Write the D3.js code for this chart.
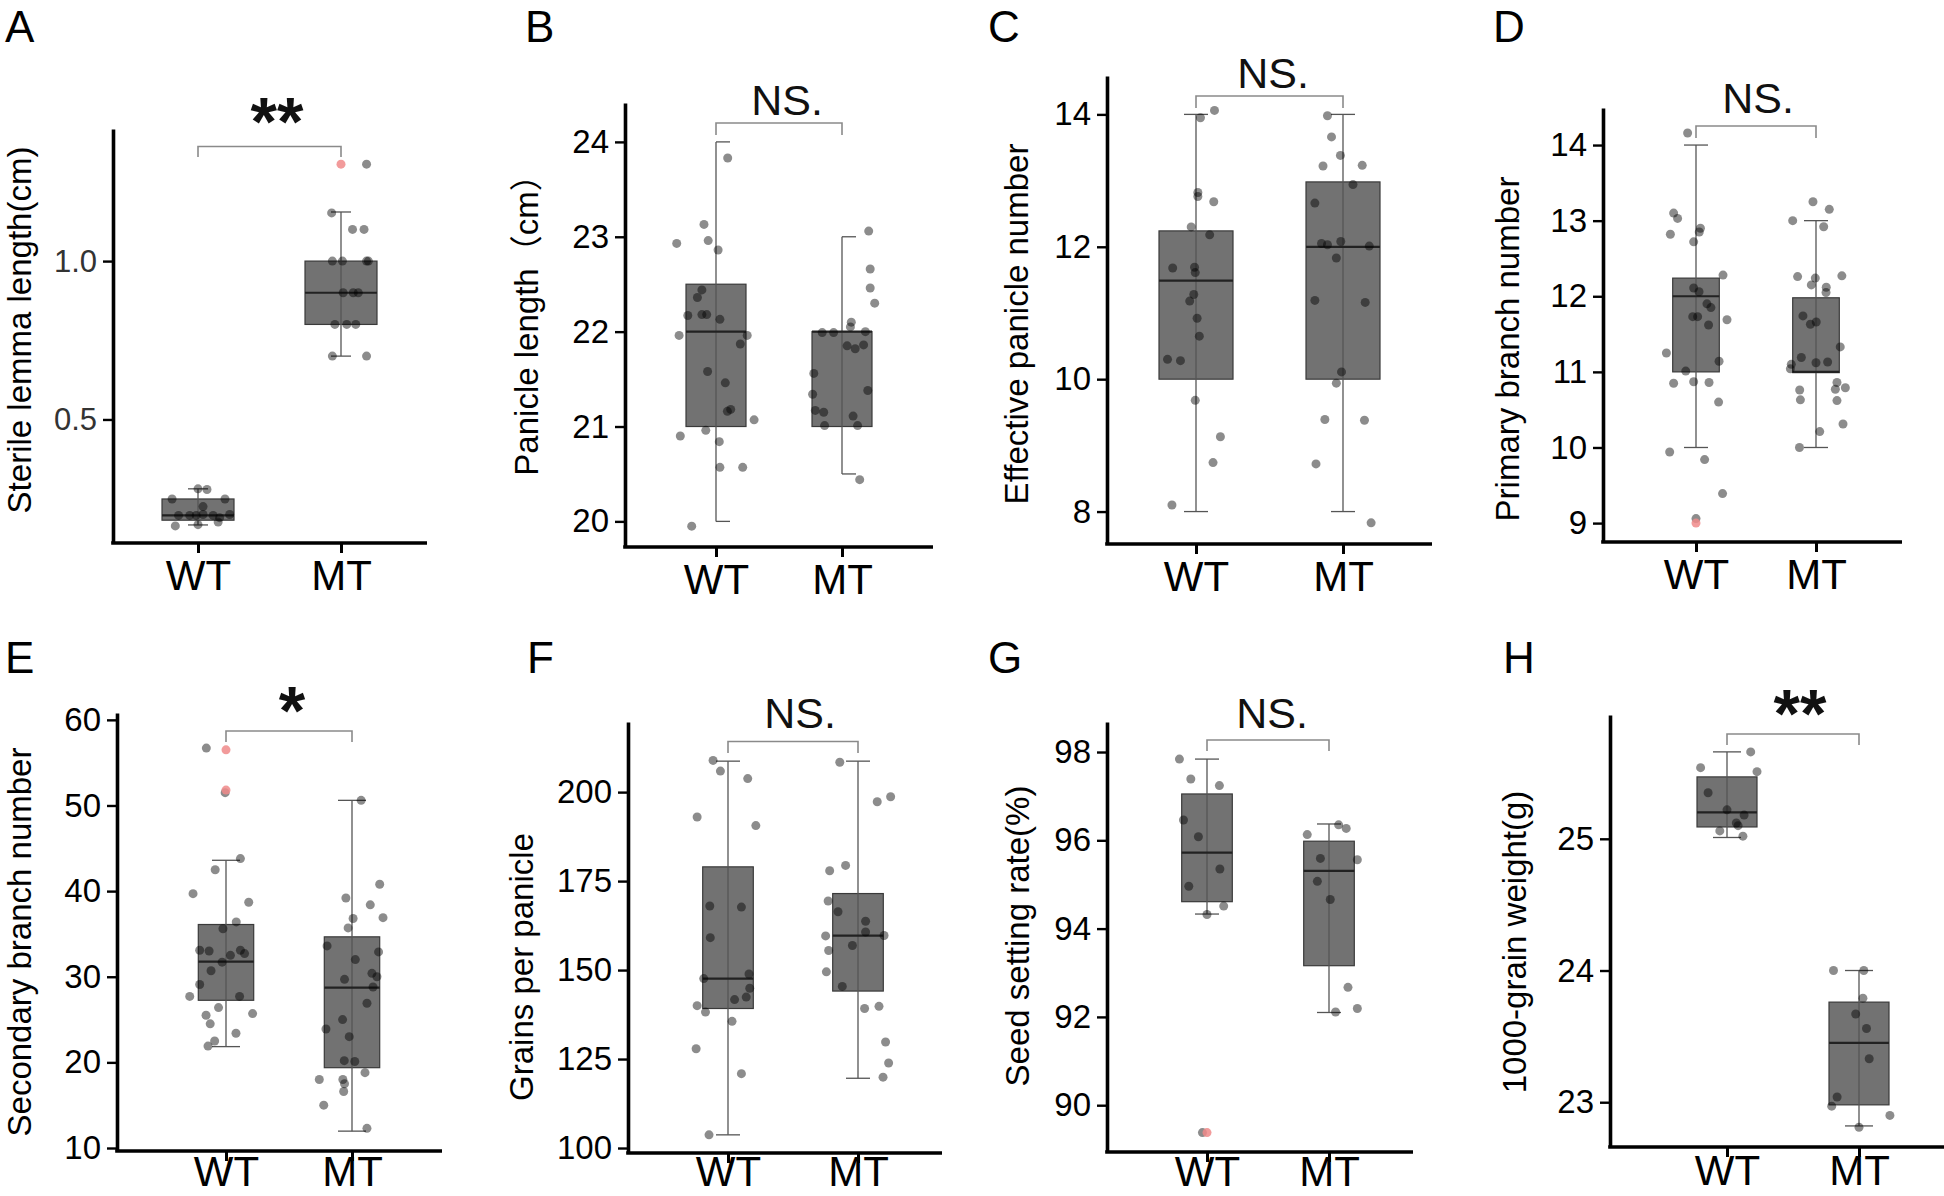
<!DOCTYPE html>
<html><head><meta charset="utf-8">
<script src="https://cdn.jsdelivr.net/npm/d3@7"></script>
<style>
body{margin:0;background:#fff}
svg{display:block}
text{font-family:"Liberation Sans",Arial,Helvetica,"Noto Sans CJK SC",sans-serif}
</style>
</head><body>
<svg id="chart" width="1944" height="1196"></svg>
<script>
// ---------------- DATA ----------------
const groups = ["WT", "MT"];
const panelLetters = ["A", "B", "C", "D", "E", "F", "G", "H"];
const yTitles = ["Sterile lemma length(cm)", "Panicle length（cm）", "Effective panicle number", "Primary branch number",
  "Secondary branch number", "Grains per panicle", "Seed setting rate(%)", "1000-grain weight(g)"];
const sigLabels = ["**", "NS.", "NS.", "NS.", "*", "NS.", "NS.", "**"];
const yTicks = [[0.5, 1.0], [20, 21, 22, 23, 24], [8, 10, 12, 14], [9, 10, 11, 12, 13, 14],
  [10, 20, 30, 40, 50, 60], [100, 125, 150, 175, 200], [90, 92, 94, 96, 98], [23, 24, 25]];
const yDomains = [[0.11, 1.417], [19.73, 24.41], [7.51, 14.58], [8.75, 14.49],
  [9.65, 60.8], [98.6, 219.7], [88.94, 98.68], [22.66, 25.94]];

// box statistics per group: [lower whisker, Q1, median, Q3, upper whisker] for WT, MT
const statsA = [[0.167, 0.182, 0.197, 0.249, 0.281], [0.70, 0.80, 0.90, 1.00, 1.155]];
const statsB = [[20, 21, 22, 22.5, 24], [20.5, 21, 22, 22, 23]];
const statsC = [[8, 10, 11.49, 12.24, 14], [8, 10, 12, 12.98, 14]];
const statsD = [[10, 11, 12, 12.24, 14], [10, 10.99, 11, 11.98, 13]];
const statsE = [[21.84, 27.25, 31.76, 36.1, 43.6], [11.97, 19.38, 28.72, 34.66, 50.6]];
const statsF = [[103.7, 139.2, 147.6, 179.0, 208.7], [119.6, 144.1, 159.7, 171.5, 208.7]];
const statsG = [[94.33, 94.61, 95.72, 97.05, 97.84], [92.1, 93.16, 95.31, 95.98, 96.37]];
const statsH = [[25.01, 25.09, 25.20, 25.47, 25.66], [22.82, 22.98, 23.45, 23.76, 24.0]];

// individual observations [WT values, MT values]
const valuesA = [[0.281, 0.279, 0.249, 0.249, 0.225, 0.197, 0.197, 0.2, 0.197, 0.2, 0.164, 0.168, 0.176, 0.197, 0.19],
  [1.306, 1.152, 1.10, 1.10, 1.0, 1.0, 1.0, 1.0, 0.90, 0.90, 0.90, 0.80, 0.80, 0.80, 0.70, 0.70]];
const valuesB = [[23.83, 23.13, 22.93, 22.96, 22.86, 22.44, 22.36, 22.17, 22.18, 22.18, 22.13, 21.96, 21.96, 21.87, 21.58, 21.46, 21.16, 21.18, 21.07, 20.90, 20.96, 20.84, 20.57, 20.57, 19.95],
  [23.06, 22.66, 22.46, 22.30, 22.10, 22.05, 21.99, 21.99, 22.0, 21.85, 21.82, 21.86, 21.56, 21.34, 21.38, 21.17, 21.15, 21.01, 21.11, 21.01, 20.44]];
const valuesC = [[14.06, 13.95, 12.82, 12.76, 12.68, 12.30, 12.18, 11.68, 11.69, 11.61, 11.28, 11.18, 10.92, 10.65, 10.30, 10.28, 9.68, 9.13, 8.74, 8.10],
  [13.98, 13.66, 13.38, 13.22, 13.23, 12.94, 12.66, 12.05, 12.03, 12.08, 12.01, 11.83, 11.19, 11.16, 10.11, 9.94, 9.39, 9.38, 8.72, 7.83]];
const valuesD = [[14.16, 13.10, 13.03, 12.82, 12.90, 12.85, 12.72, 12.28, 12.11, 12.06, 11.90, 11.85, 11.73, 11.73, 11.62, 11.69, 11.25, 11.01, 11.14, 10.85, 10.87, 10.86, 10.60, 9.94, 9.84, 9.39, 9.06],
  [13.25, 13.15, 13.0, 12.92, 12.26, 12.24, 12.27, 12.15, 12.12, 12.05, 11.74, 11.63, 11.66, 11.33, 11.10, 11.19, 11.12, 11.13, 11.04, 10.86, 10.77, 10.79, 10.76, 10.63, 10.62, 10.31, 10.21, 10.0]];
const valuesE = [[56.7, 51.5, 43.8, 42.5, 39.7, 38.7, 36.4, 35.6, 33.1, 33.0, 33.1, 32.7, 32.5, 31.7, 30.7, 29.1, 27.7, 27.7, 26.4, 25.5, 25.7, 24.5, 23.4, 22.5, 21.9],
  [50.6, 40.8, 39.2, 38.4, 36.8, 36.9, 35.7, 33.6, 32.9, 32.0, 30.4, 30.0, 29.7, 28.8, 26.9, 25.0, 23.9, 23.0, 20.2, 20.1, 18.8, 18.0, 18.0, 17.5, 16.6, 15.0, 12.3]];
const valuesF = [[208.9, 205.9, 203.8, 193.0, 190.6, 168.0, 167.7, 159.1, 147.6, 148.9, 144.9, 142.4, 141.7, 140.0, 138.2, 135.6, 127.9, 120.9, 103.7],
  [208.4, 197.3, 198.7, 177.9, 179.4, 169.4, 166.4, 163.7, 159.6, 160.7, 159.7, 155.5, 156.9, 149.5, 145.4, 139.2, 139.8, 129.8, 123.9, 119.9]];
const valuesG = [[97.84, 97.39, 97.24, 96.46, 96.08, 95.35, 94.96, 94.51, 94.32, 89.38],
  [96.35, 96.27, 96.13, 95.59, 95.56, 95.07, 94.66, 92.67, 92.11, 92.19]];
const valuesH = [[25.66, 25.54, 25.51, 25.35, 25.22, 25.18, 25.12, 25.06, 25.02, 25.10],
  [24.0, 24.0, 23.79, 23.67, 23.56, 23.33, 23.04, 22.97, 22.90, 22.81]];

// horizontal jitter of each observation, in units of half a box width
const jitterA = [[0, 0.25, -0.72, 0.75, 0.14, -0.54, -0.23, 0.14, 0.42, 0.88, -0.63, 0, 0.56, -0.05, 0.6],
  [0.71, -0.26, 0.32, 0.64, -0.24, 0.04, 0.71, 0.76, 0.06, 0.34, 0.48, -0.17, 0.16, 0.41, -0.24, 0.71]];
const jitterB = [[0.39, -0.4, -1.31, -0.26, 0.07, -0.47, -0.62, -0.94, -0.47, -0.31, 0.13, -1.23, 1.04, 0.81, -0.28, 0.31, 0.38, 0.49, 1.27, -1.19, -0.34, 0.11, 0.13, 0.89, -0.81],
  [0.89, 0.94, 0.94, 1.09, 0.31, 0.28, -0.66, -0.28, 0.78, 0.17, 0.44, 0.72, -0.94, -0.98, 0.86, -0.89, -0.61, -0.58, 0.37, 0.52, 0.59]];
const jitterC = [[0.5, 0.12, 0.05, 0.05, 0.48, -0.13, 0.37, -0.63, -0.04, -0.02, -0.06, -0.17, 0.03, 0.09, -0.77, -0.42, -0.02, 0.66, 0.46, -0.65],
  [-0.42, -0.31, -0.07, -0.54, 0.52, 0.27, -0.76, -0.58, -0.42, -0.06, 0.71, -0.18, -0.76, 0.6, -0.04, -0.18, -0.49, 0.58, -0.73, 0.76]];
const jitterD = [[-0.36, -0.96, -0.79, -1.1, 0.19, 0.14, -0.1, 1.16, -0.1, 0.13, 0.47, 0.64, -0.14, 0.07, 0.54, 1.33, -1.27, -0.44, 0.99, -0.96, -0.1, 0.56, 0.97, -1.13, 0.37, 1.14, 0],
  [-0.13, 0.57, -1.0, 0.33, -0.79, -0.03, 1.11, -0.2, 0.44, 0.43, -0.56, -0.24, 0.01, 1.04, -1.06, -0.63, 0, 0.5, -1.1, 0.9, 0.83, 1.26, -0.7, -0.67, 0.9, 1.16, 0.16, -0.71]];
const jitterE = [[-0.71, -0.03, 0.52, -0.39, -1.19, 0.82, 0.37, -0.11, -0.95, -0.61, 0.52, 0.67, 0.16, -0.14, -0.54, -0.95, -1.31, 0.49, -0.27, -0.72, 0.96, -0.57, 0.36, -0.41, -0.65],
  [0.33, 1.0, -0.22, 0.66, 0.04, 1.12, -0.14, -0.9, 0.96, 0.12, 0.72, 0.9, -0.27, 0.76, 0.54, -0.34, -0.94, -0.1, -0.28, 0.1, 0.47, -1.18, -0.33, -0.27, -0.3, -1.02, 0.54]];
const jitterF = [[-0.59, -0.3, 0.78, -1.22, 1.1, -0.72, 0.53, -0.7, -0.96, 0.83, 0.86, 0.72, 0.26, -1.22, -0.89, 0.16, -1.26, 0.53, -0.75],
  [-0.72, 0.76, 1.29, -1.12, -0.49, -1.18, -0.79, 0.3, -1.28, 0.3, 1.03, -1.16, -0.22, -1.25, -0.62, 0.26, 0.83, 1.09, 1.21, 0.99]];
const jitterG = [[-1.09, -0.64, 0.49, -0.93, -0.34, 0.51, -0.72, 0.66, 0, -0.18],
  [0.38, 0.68, -0.86, -0.34, 1.12, -0.46, 0.05, 0.75, 0.26, 1.12]];
const jitterH = [[0.79, -0.88, 1.0, -0.63, 0, 0.57, 0.31, -0.24, 0.53, 0.37],
  [-0.85, 0.16, 0.13, -0.11, 0.25, 0.34, -0.73, -0.91, 1.03, 0]];

// outlier points (highlighted pink): [panel index, group, value]
const outliers = [[0, "MT", 1.306], [3, "WT", 9.0], [4, "WT", 56.5], [4, "WT", 51.8], [6, "WT", 89.38]];

const allStats = [statsA, statsB, statsC, statsD, statsE, statsF, statsG, statsH];
const allValues = [valuesA, valuesB, valuesC, valuesD, valuesE, valuesF, valuesG, valuesH];
const allJitter = [jitterA, jitterB, jitterC, jitterD, jitterE, jitterF, jitterG, jitterH];

// ---------------- LAYOUT (pixels) ----------------
const layout = [
  {ax: 113, top: 129, base: 543, right: 427, c: [198, 341], half: 36, letter: [5, 42], sig: [277, 145], br: 146.5, drop: 10.5, title: [20, 330], pad: 7, caps: [-10, 10], tickFill: "#333", fmt: ".1f"},
  {ax: 625, top: 103, base: 547, right: 933, c: [716, 842], half: 30, letter: [525, 42], sig: [787, 115], br: 123, drop: 12, title: [527, 317], pad: 7, caps: [0, 14], tickFill: "#000", fmt: "d"},
  {ax: 1107, top: 76, base: 544, right: 1432, c: [1196, 1343], half: 37, letter: [988, 42], sig: [1273, 88], br: 96, drop: 12, title: [1017, 324], pad: 7, caps: [-12, 12], tickFill: "#000", fmt: "d"},
  {ax: 1603, top: 108, base: 542, right: 1902, c: [1696, 1816], half: 23.3, letter: [1493, 42], sig: [1758, 113], br: 126, drop: 12, title: [1508, 349], pad: 7, caps: [-12, 12], tickFill: "#000", fmt: "d"},
  {ax: 117, top: 713, base: 1151, right: 442, c: [226, 352], half: 27.7, letter: [5, 673], sig: [292, 734], br: 731, drop: 11, title: [20, 942], pad: -5, caps: [-14, 14], tickFill: "#000", fmt: "d"},
  {ax: 628, top: 722, base: 1153, right: 942, c: [728, 858], half: 25.3, letter: [527, 673], sig: [800, 728], br: 741.5, drop: 11.5, title: [522, 967], pad: -7, caps: [-12, 12], tickFill: "#000", fmt: "d"},
  {ax: 1107, top: 722, base: 1152, right: 1413, c: [1207, 1329], half: 25.3, letter: [988, 673], sig: [1272, 728], br: 740, drop: 11, title: [1018, 936], pad: -6, caps: [-12, 12], tickFill: "#000", fmt: "d"},
  {ax: 1610, top: 715, base: 1147, right: 1944, c: [1727, 1859], half: 30, letter: [1503, 673], sig: [1800, 737], br: 734, drop: 11, title: [1515, 942], pad: -2, caps: [-14, 14], tickFill: "#000", fmt: "d"}
];

const svg = d3.select("#chart");

panelLetters.forEach((letter, i) => {
  const L = layout[i];
  const g = svg.append("g");
  const y = d3.scaleLinear().domain(yDomains[i]).range([L.base, L.top]);
  const x = d3.scalePoint().domain(groups).range(L.c);
  const stats = allStats[i], vals = allValues[i], jit = allJitter[i];

  // boxes
  groups.forEach((grp, k) => {
    const [lo, q1, med, q3, hi] = stats[k];
    const cx = x(grp);
    const jx = d3.scaleLinear().domain([-1, 1]).range([cx - L.half, cx + L.half]);
    g.append("rect")
      .attr("x", jx(-1)).attr("width", jx(1) - jx(-1))
      .attr("y", y(q3)).attr("height", y(q1) - y(q3))
      .attr("fill", "#727272").attr("stroke", "#3a3a3a").attr("stroke-width", 1.2);
    g.append("line").attr("x1", cx).attr("x2", cx).attr("y1", y(lo)).attr("y2", y(hi))
      .attr("stroke", "#555").attr("stroke-width", 1.3);
    [lo, hi].forEach(v => g.append("line")
      .attr("x1", cx + L.caps[0]).attr("x2", cx + L.caps[1]).attr("y1", y(v)).attr("y2", y(v))
      .attr("stroke", "#555").attr("stroke-width", 1.3));
    g.append("line").attr("x1", jx(-1)).attr("x2", jx(1)).attr("y1", y(med)).attr("y2", y(med))
      .attr("stroke", "#222").attr("stroke-width", 2.2);
    // points
    g.selectAll(null).data(vals[k].map((v, n) => ({v, j: jit[k][n]}))).enter().append("circle")
      .attr("cx", d => jx(d.j)).attr("cy", d => y(d.v)).attr("r", 4.5)
      .attr("fill", "#000").attr("fill-opacity", 0.45);
  });
  outliers.filter(o => o[0] === i).forEach(o => {
    g.append("circle").attr("cx", x(o[1])).attr("cy", y(o[2])).attr("r", 4.5)
      .attr("fill", "#f08a8a").attr("fill-opacity", 0.85);
  });

  // y axis
  const yAxis = d3.axisLeft(y).tickValues(yTicks[i]).tickSize(10).tickPadding(6).tickSizeOuter(0)
    .tickFormat(d3.format(L.fmt));
  const ya = g.append("g").attr("transform", `translate(${L.ax},0)`).call(yAxis);
  ya.select(".domain").attr("stroke", "#000").attr("stroke-width", 3.6);
  ya.selectAll(".tick line").attr("stroke", "#000").attr("stroke-width", 2.4);
  ya.selectAll(".tick text").attr("font-size", i === 0 ? 31 : 33).attr("fill", L.tickFill)
    .attr("font-family", "Liberation Sans, Arial, sans-serif");

  // x axis
  const xAxis = d3.axisBottom(x).tickSize(10).tickPadding(L.pad).tickSizeOuter(0);
  const xa = g.append("g").attr("transform", `translate(0,${L.base})`).call(xAxis);
  xa.select(".domain").remove();
  xa.append("line").attr("x1", L.ax - 1.8).attr("x2", L.right).attr("y1", 0).attr("y2", 0)
    .attr("stroke", "#000").attr("stroke-width", 3.6);
  xa.selectAll(".tick line").attr("stroke", "#000").attr("stroke-width", 3);
  xa.selectAll(".tick text").attr("font-size", 42).attr("fill", "#000")
    .attr("font-family", "Liberation Sans, Arial, sans-serif");

  // y title
  g.append("text")
    .attr("transform", `translate(${L.title[0] + 11},${L.title[1]}) rotate(-90)`)
    .attr("text-anchor", "middle").attr("font-size", 33).attr("fill", "#000")
    .text(yTitles[i]);

  // panel letter
  g.append("text").attr("x", L.letter[0]).attr("y", L.letter[1])
    .attr("font-size", 44).attr("fill", "#000").text(letter);

  // significance bracket
  const bx0 = x("WT"), bx1 = x("MT");
  g.append("path")
    .attr("d", `M${bx0},${L.br + L.drop}V${L.br}H${bx1}V${L.br + L.drop}`)
    .attr("fill", "none").attr("stroke", "#8a8a8a").attr("stroke-width", 1.6);
  const isStar = sigLabels[i].startsWith("*");
  g.append("text").attr("x", L.sig[0]).attr("y", L.sig[1])
    .attr("text-anchor", "middle")
    .attr("font-size", isStar ? 68 : 43)
    .attr("font-weight", isStar ? "bold" : "normal")
    .attr("fill", "#111")
    .text(sigLabels[i]);
});
</script>
</body></html>
